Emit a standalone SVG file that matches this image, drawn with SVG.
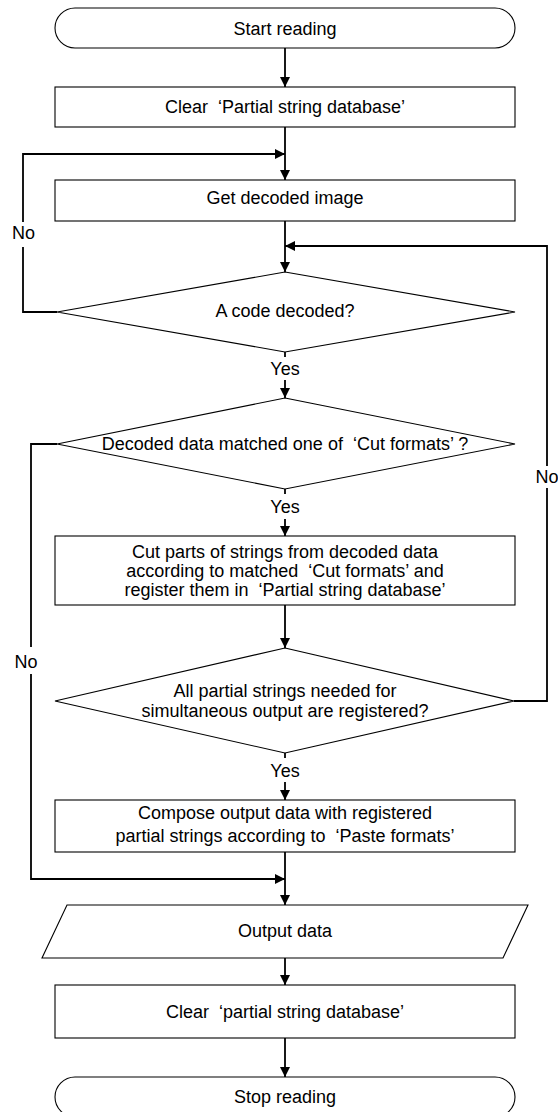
<svg xmlns="http://www.w3.org/2000/svg" width="558" height="1112" viewBox="0 0 558 1112">
<style>
.s{fill:#fff;stroke:#000;stroke-width:1.1}
.c{fill:none;stroke:#000;stroke-width:1.8}
.t{font-family:"Liberation Sans",Arial,sans-serif;font-size:18px;fill:#000;text-anchor:middle;white-space:pre}
.bg{fill:#fff;stroke:none}
</style>
<defs>
<marker id="a" markerUnits="userSpaceOnUse" markerWidth="10" markerHeight="10" refX="10" refY="5" orient="auto">
<path d="M0,0 L10,5 L0,10 z" fill="#000"/>
</marker>
</defs>
<rect width="558" height="1112" fill="#fff"/>
<g id="connectors">
<line class="c" x1="285" y1="48" x2="285" y2="87" marker-end="url(#a)"/>
<line class="c" x1="285" y1="127" x2="285" y2="180" marker-end="url(#a)"/>
<polyline class="c" points="57,312 23,312 23,154 285,154" marker-end="url(#a)"/>
<line class="c" x1="285" y1="221" x2="285" y2="272" marker-end="url(#a)"/>
<polyline class="c" points="514,701 547,701 547,246 285,246" marker-end="url(#a)"/>
<line class="c" x1="285" y1="352" x2="285" y2="398" marker-end="url(#a)"/>
<line class="c" x1="285" y1="489" x2="285" y2="536" marker-end="url(#a)"/>
<polyline class="c" points="57,444 31,444 31,879 285,879" marker-end="url(#a)"/>
<line class="c" x1="285" y1="605" x2="285" y2="648" marker-end="url(#a)"/>
<line class="c" x1="285" y1="753" x2="285" y2="800" marker-end="url(#a)"/>
<line class="c" x1="285" y1="852" x2="285" y2="905" marker-end="url(#a)"/>
<line class="c" x1="285" y1="958" x2="285" y2="985" marker-end="url(#a)"/>
<line class="c" x1="285" y1="1038" x2="285" y2="1077" marker-end="url(#a)"/>
<rect class="bg" x="8" y="222" width="32" height="25"/>
<text class="t" x="23.5" y="239">No</text>
<rect class="bg" x="10" y="647" width="34" height="27"/>
<text class="t" x="26" y="668">No</text>
<rect class="bg" x="534" y="466" width="24" height="22"/>
<text class="t" x="547" y="483">No</text>
<rect class="bg" x="266" y="357" width="38" height="23"/>
<text class="t" x="285" y="375">Yes</text>
<rect class="bg" x="266" y="494" width="38" height="25"/>
<text class="t" x="285" y="513">Yes</text>
<rect class="bg" x="266" y="758" width="38" height="24"/>
<text class="t" x="285" y="777">Yes</text>
</g>
<g id="start">
<rect class="s" x="55" y="8" width="460" height="40" rx="20" ry="20"/>
<text class="t" x="285" y="34.5">Start reading</text>
</g>
<g id="clear1">
<rect class="s" x="55" y="87" width="460" height="40"/>
<text class="t" x="285" y="113" xml:space="preserve">Clear  ‘Partial string database’</text>
</g>
<g id="getimage">
<rect class="s" x="55" y="180" width="460" height="41"/>
<text class="t" x="285" y="204">Get decoded image</text>
</g>
<g id="decoded">
<polygon class="s" points="285,272 515,312 285,352 57,312"/>
<text class="t" x="285" y="317">A code decoded?</text>
</g>
<g id="matched">
<polygon class="s" points="285,398 515,444 285,489 57,444"/>
<text class="t" x="285" y="450" xml:space="preserve">Decoded data matched one of  ‘Cut formats’ ?</text>
</g>
<g id="cut">
<rect class="s" x="55" y="536" width="460" height="69"/>
<text class="t" x="285" y="558">Cut parts of strings from decoded data</text>
<text class="t" x="285" y="577" xml:space="preserve">according to matched  ‘Cut formats’ and</text>
<text class="t" x="285" y="596" xml:space="preserve">register them in  ‘Partial string database’</text>
</g>
<g id="allregistered">
<polygon class="s" points="285,648 514,701 285,753 55,701"/>
<text class="t" x="285" y="697">All partial strings needed for</text>
<text class="t" x="285" y="717">simultaneous output are registered?</text>
</g>
<g id="compose">
<rect class="s" x="55" y="800" width="460" height="52"/>
<text class="t" x="285" y="819">Compose output data with registered</text>
<text class="t" x="285" y="842" xml:space="preserve">partial strings according to  ‘Paste formats’</text>
</g>
<g id="output">
<polygon class="s" points="67,905 528,905 503,958 42,958"/>
<text class="t" x="285" y="937">Output data</text>
</g>
<g id="clear2">
<rect class="s" x="55" y="985" width="460" height="53"/>
<text class="t" x="285" y="1018" xml:space="preserve">Clear  ‘partial string database’</text>
</g>
<g id="stop">
<rect class="s" x="55" y="1077" width="460" height="40" rx="20" ry="20"/>
<text class="t" x="285" y="1103">Stop reading</text>
</g>
</svg>
